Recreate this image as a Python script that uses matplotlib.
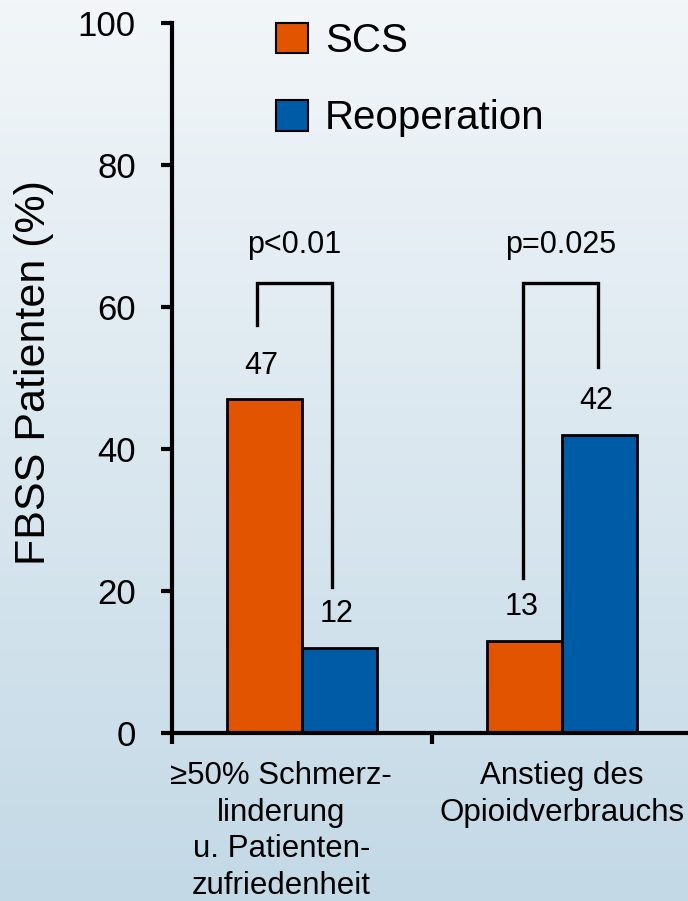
import numpy as np
import matplotlib
matplotlib.use('Agg')
import matplotlib.pyplot as plt
from matplotlib.colors import LinearSegmentedColormap
from matplotlib.patches import Patch

plt.rcParams['font.family'] = ['Liberation Sans', 'DejaVu Sans']

# Daten
categories = ['\u226550% Schmerz-\nlinderung\nu. Patienten-\nzufriedenheit',
              'Anstieg des\nOpioidverbrauchs']
series_names = ['SCS', 'Reoperation']
scs = [47, 13]
reoperation = [12, 42]
p_values = ['p<0.01', 'p=0.025']
yticks = [0, 20, 40, 60, 80, 100]

orange = '#e35400'
blue = '#005ba6'

fig = plt.figure(figsize=(6.88, 9.01), dpi=100)

# Hintergrund mit Verlauf
bg = fig.add_axes([0, 0, 1, 1], zorder=-1)
grad = LinearSegmentedColormap.from_list('bg', ['#c3d9e6', '#f2f6f9'])
bg.imshow(np.linspace(0, 1, 256).reshape(-1, 1), aspect='auto', cmap=grad,
          origin='lower', extent=[0, 1, 0, 1])
bg.axis('off')

ax = fig.add_axes([172/688, 168/901, 520/688, 710/901])
ax.patch.set_alpha(0)

x = np.arange(len(categories)) + 0.5
w = 0.287
ax.bar(x - w/2, scs, w, color=orange, edgecolor='black', linewidth=2, zorder=2)
ax.bar(x + w/2, reoperation, w, color=blue, edgecolor='black', linewidth=2, zorder=2)

# Werte über den Balken
for xi, s, r in zip(x, scs, reoperation):
    ax.text(xi - w/2 - 0.012, s + 4.7, str(s), ha='center', va='center', fontsize=22)
    ax.text(xi + w/2 - 0.012, r + 4.7, str(r), ha='center', va='center', fontsize=22)

# Signifikanz-Klammern
bracket_top = 63.4
leg_gap = [(10.5, 8.5), (8.8, 9.5)]
shift = [-0.03, -0.005]
for i in range(len(categories)):
    xl = x[i] - w/2 + shift[i]
    xr = x[i] + w/2 + shift[i]
    ax.plot([xl, xl, xr, xr],
            [scs[i] + leg_gap[i][0], bracket_top, bracket_top, reoperation[i] + leg_gap[i][1]],
            color='black', lw=2.4, solid_joinstyle='miter', clip_on=False)
    ax.text((xl + xr) / 2, 68.7, p_values[i], ha='center', va='center', fontsize=22)

ax.set_xlim(0, 2)
ax.set_ylim(0, 100)
ax.spines[['top', 'right']].set_visible(False)
ax.spines[['left', 'bottom']].set_linewidth(3)
ax.set_yticks(yticks)
ax.tick_params(axis='y', length=8, width=3, labelsize=25, pad=18)
ax.set_xticks([0, 1, 2])
ax.set_xticklabels([])
ax.tick_params(axis='x', length=8, width=3)

label_x = [0.42, 1.5]
for lx, c in zip(label_x, categories):
    ax.text(lx, -4.0, c, ha='center', va='top', fontsize=22.5, linespacing=1.28)

fig.text(34/688, 1 - 373/901, 'FBSS Patienten (%)', rotation=90,
         ha='center', va='center', fontsize=31)

handles = [Patch(facecolor=orange, edgecolor='black', linewidth=1.5),
           Patch(facecolor=blue, edgecolor='black', linewidth=1.5)]
fig.legend(handles, series_names, loc='upper left', bbox_to_anchor=(276/688, 1 - 22/901),
           frameon=False, fontsize=29, handlelength=0.8, handleheight=0.78,
           handletextpad=0.42, labelspacing=0.98, borderpad=0, borderaxespad=0)

fig.savefig('out.png', dpi=100)
